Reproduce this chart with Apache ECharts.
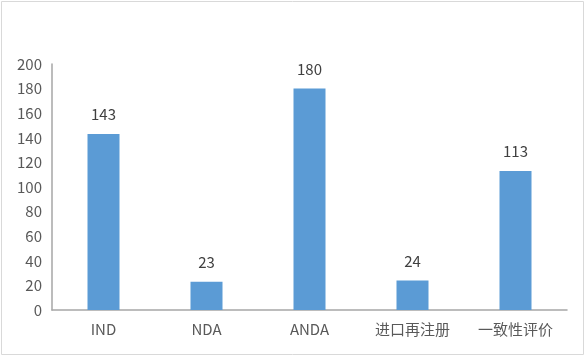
<!DOCTYPE html>
<html><head><meta charset="utf-8">
<script src="https://cdn.jsdelivr.net/npm/echarts@6/dist/echarts.min.js"></script>
<style>html,body{margin:0;padding:0;background:#fff}#c{width:586px;height:357px}</style>
</head><body><div id="c"></div>
<script>
var categories = ['IND', 'NDA', 'ANDA', '进口再注册', '一致性评价'];
var values = [143, 23, 180, 24, 113];
var yTicks = [0, 20, 40, 60, 80, 100, 120, 140, 160, 180, 200];

var chart = echarts.init(document.getElementById('c'));
var font = '"Noto Sans CJK SC", "Noto Sans", sans-serif';
chart.setOption({
  animation: false,
  graphic: [{
    type: 'rect', shape: {x: 1.5, y: 1.5, width: 582, height: 353},
    style: {fill: 'none', stroke: '#d9d9d9', lineWidth: 1}, silent: true
  }],
  grid: {left: 52, right: 19, top: 64, bottom: 47},
  xAxis: {
    type: 'category', data: categories,
    axisLine: {lineStyle: {color: '#a6a6a6', width: 1.5}},
    axisTick: {show: false},
    axisLabel: {color: '#595959', fontSize: 15, fontFamily: font, margin: 12}
  },
  yAxis: {
    type: 'value', min: yTicks[0], max: yTicks[yTicks.length - 1], interval: 20,
    axisLine: {show: true, lineStyle: {color: '#a6a6a6', width: 1.5}},
    axisTick: {show: false},
    splitLine: {show: false},
    axisLabel: {color: '#595959', fontSize: 15, fontFamily: font, margin: 10}
  },
  series: [{
    type: 'bar', data: values, barWidth: 32,
    itemStyle: {color: '#5b9bd5'},
    label: {show: true, position: 'top', distance: 12, color: '#404040', fontSize: 15, fontFamily: font}
  }]
});
</script></body></html>
